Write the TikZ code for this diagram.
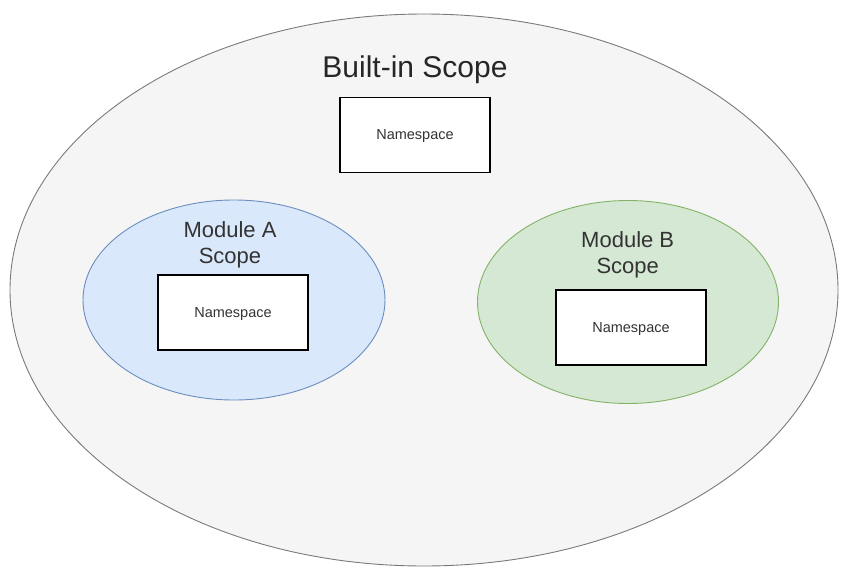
\documentclass[tikz,border=0pt]{standalone}
\usepackage{fontspec}
\setmainfont{Liberation Sans}
\usepackage{tikz}
\usetikzlibrary{shapes.geometric,positioning}
\definecolor{outerfill}{HTML}{F5F5F5}
\definecolor{outerline}{HTML}{7A7A7A}
\definecolor{bluefill}{HTML}{DAE8FC}
\definecolor{blueline}{HTML}{6C8EBF}
\definecolor{greenfill}{HTML}{D5E8D4}
\definecolor{greenline}{HTML}{82B366}
\definecolor{labeltext}{HTML}{333333}
\tikzset{
  scopeoval/.style={ellipse,draw,line width=0.9pt,inner sep=0pt},
  nsbox/.style={draw=black,fill=white,line width=1.3pt,minimum width=150pt,minimum height=75pt,inner sep=0pt,
    text depth=0pt,font=\fontsize{14.5}{17}\selectfont,text=labeltext},
  scopelabel/.style={align=center,inner sep=0pt,text=labeltext,font=\fontsize{22}{26}\selectfont}
}

\begin{document}
\begin{tikzpicture}[x=1pt,y=-1pt]
\useasboundingbox (0,0) rectangle (853,584);
\node[scopeoval,fill=outerfill,draw=outerline,minimum width=828pt,minimum height=552pt] (builtin) at (424,290) {};
\node[anchor=base,inner sep=0pt,font=\fontsize{30}{34}\selectfont,text=black!85] (builtintitle) at (415,77) {Built-in Scope};
\node[nsbox] (builtinns) at (415,135) {Namespace};

\node[scopeoval,fill=bluefill,draw=blueline,minimum width=302pt,minimum height=200pt] (moda) at (234,300) {};
\node[scopelabel] (modatitle) at (230,245.3) {Module A\\Scope};
\node[nsbox] (modans) at (233,312.5) {Namespace};

\node[scopeoval,fill=greenfill,draw=greenline,minimum width=301pt,minimum height=203pt] (modb) at (628,302) {};
\node[scopelabel] (modbtitle) at (627.7,254.7) {Module B\\Scope};
\node[nsbox] (modbns) at (631,327.5) {Namespace};
\end{tikzpicture}
\end{document}
